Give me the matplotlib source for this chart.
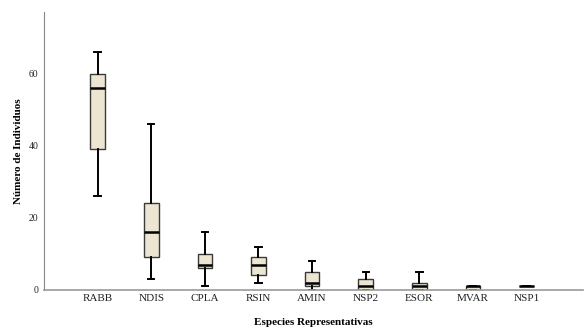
import matplotlib.pyplot as plt

# Datos (resumen de cada caja)
especies = ["RABB", "NDIS", "CPLA", "RSIN", "AMIN", "NSP2", "ESOR", "MVAR", "NSP1"]
bigote_inf = [26, 3, 1, 2, 0, 0, 0, 0, 1]
q1 = [39, 9, 6, 4, 1, 0, 0, 0, 1]
mediana = [56, 16, 7, 7, 2, 1, 1, 1, 1]
q3 = [60, 24, 10, 9, 5, 3, 2, 1, 1]
bigote_sup = [66, 46, 16, 12, 8, 5, 5, 1, 1]

stats = []
for i, nombre in enumerate(especies):
    stats.append({
        "label": nombre,
        "whislo": bigote_inf[i],
        "q1": q1[i],
        "med": mediana[i],
        "q3": q3[i],
        "whishi": bigote_sup[i],
        "fliers": [],
    })

plt.rcParams["font.family"] = ["Liberation Serif", "DejaVu Serif"]

fig, ax = plt.subplots(figsize=(5.87, 3.32), dpi=100)
fig.subplots_adjust(left=0.075, right=0.993, top=0.965, bottom=0.127)

ax.bxp(
    stats,
    positions=range(1, len(especies) + 1),
    widths=0.27,
    patch_artist=True,
    boxprops=dict(facecolor="#ECE5D2", edgecolor="#3a3a3a", linewidth=1.0),
    medianprops=dict(color="black", linewidth=1.8),
    whiskerprops=dict(color="black", linewidth=1.4),
    capprops=dict(color="black", linewidth=1.4),
    capwidths=0.12,
)

ax.set_xlim(0, 10.05)
ax.set_ylim(0, 77.2)
ax.set_yticks([0, 20, 40, 60])
ax.tick_params(axis="both", length=0, labelsize=7, colors="#222222")
ax.tick_params(axis="x", pad=3, labelsize=8)
ax.tick_params(axis="y", pad=4)

for lado in ["top", "right"]:
    ax.spines[lado].set_visible(False)
ax.spines["left"].set_color("#888888")
ax.spines["bottom"].set_color("#999999")
ax.spines["bottom"].set_linewidth(1.2)

ax.set_xlabel("Especies Representativas", fontsize=8, fontweight="bold", labelpad=11)
ax.set_ylabel("Número de Individuos", fontsize=8, fontweight="bold", labelpad=4)

plt.savefig("out.png")
